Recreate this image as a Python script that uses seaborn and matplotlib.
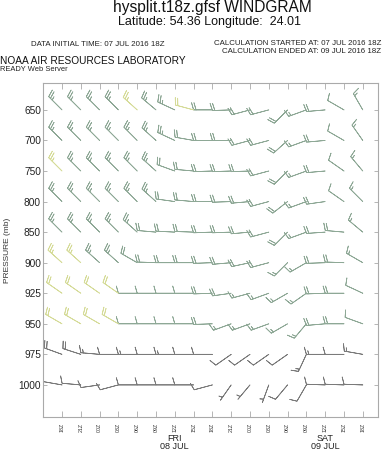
import matplotlib
matplotlib.use("Agg")
import matplotlib.pyplot as plt
import matplotlib.transforms as mtransforms
import numpy as np
import pandas as pd
import seaborn as sns

# pressure levels (top to bottom) and forecast hours
levels = [650, 700, 750, 800, 850, 900, 925, 950, 975, 1000]
hours = ["18Z", "21Z", "00Z", "03Z", "06Z", "09Z", "12Z", "15Z", "18Z",
         "21Z", "00Z", "03Z", "06Z", "09Z", "12Z", "15Z", "18Z"]
day_names = ["FRI\n08 JUL", "SAT\n09 JUL"]
day_hour_idx = [6, 14]

# wind direction (deg, from) and speed (kt) per level, one value per hour
dir_650 = [315, 315, 315, 315, 312, 310, 295, 285, 270, 268, 255, 255, 225, 250, 265, 300, 330]
spd_650 = [25, 25, 25, 25, 25, 25, 25, 20, 20, 20, 20, 20, 20, 15, 20, 10, 15]
dir_700 = [315, 315, 315, 315, 315, 312, 295, 280, 270, 270, 255, 255, 228, 250, 265, 300, 325]
spd_700 = [25, 25, 25, 25, 25, 25, 25, 20, 20, 20, 20, 20, 20, 15, 20, 10, 15]
dir_750 = [315, 315, 315, 315, 315, 312, 290, 275, 268, 268, 268, 255, 225, 250, 265, 305, 320]
spd_750 = [25, 25, 25, 25, 25, 25, 20, 20, 20, 20, 20, 20, 20, 15, 20, 10, 15]
dir_800 = [315, 315, 315, 315, 315, 312, 278, 275, 270, 268, 265, 255, 232, 250, 262, 305, 315]
spd_800 = [25, 25, 25, 25, 25, 25, 20, 20, 20, 20, 20, 20, 20, 15, 20, 10, 15]
dir_850 = [315, 315, 315, 315, 312, 275, 273, 272, 268, 268, 265, 255, 225, 250, 266, 275, 310]
spd_850 = [25, 25, 25, 25, 25, 20, 20, 20, 20, 20, 20, 20, 20, 15, 20, 20, 15]
dir_900 = [312, 312, 312, 312, 300, 272, 270, 270, 268, 265, 258, 255, 225, 240, 268, 272, 300]
spd_900 = [25, 25, 25, 25, 20, 20, 20, 20, 20, 20, 20, 20, 15, 15, 20, 20, 15]
dir_925 = [305, 305, 305, 305, 270, 270, 270, 270, 268, 262, 255, 250, 240, 235, 268, 270, 295]
spd_925 = [20, 20, 20, 20, 10, 10, 10, 10, 20, 20, 15, 15, 15, 15, 20, 20, 10]
dir_950 = [300, 300, 300, 300, 270, 270, 270, 270, 268, 250, 250, 250, 240, 220, 265, 270, 290]
spd_950 = [20, 20, 20, 20, 10, 10, 10, 10, 20, 15, 15, 15, 15, 15, 20, 20, 10]
dir_975 = [290, 288, 275, 270, 270, 270, 270, 270, 270, 235, 235, 235, 235, 205, 270, 270, 280]
spd_975 = [20, 20, 15, 10, 15, 10, 15, 10, 10, 10, 10, 10, 10, 15, 15, 10, 15]
dir_1000 = [280, 275, 262, 255, 270, 270, 270, 270, 255, 215, 220, 200, 220, 210, 272, 272, 272]
spd_1000 = [10, 10, 10, 10, 10, 10, 10, 10, 10, 5, 5, 5, 10, 10, 10, 10, 10]

# colour class of each barb (G grey-green, Y yellow-green, D grey)
tone_650 = "GGGGYGGYGGGGGGGGG"
tone_700 = "GGGGGGGGGGGGGGGGG"
tone_750 = "YGGGGGGGGGGGGGGGG"
tone_800 = "GGGGGGGGGGGGGGGGG"
tone_850 = "GGGGGGGGGGGGGGGGG"
tone_900 = "YYGGGGGGGGGGGGGGG"
tone_925 = "YYYYGGGGGGGGGGGGG"
tone_950 = "YYYYGGGGGGGGGGGGG"
tone_975 = "DDDDDDDDDDDDDDDDD"
tone_1000 = "DDDDDDDDDDDDDDDDD"

dirs = [dir_650, dir_700, dir_750, dir_800, dir_850, dir_900, dir_925, dir_950, dir_975, dir_1000]
spds = [spd_650, spd_700, spd_750, spd_800, spd_850, spd_900, spd_925, spd_950, spd_975, spd_1000]
tones = [tone_650, tone_700, tone_750, tone_800, tone_850, tone_900, tone_925, tone_950, tone_975, tone_1000]

rows = []
for li, lev in enumerate(levels):
    for ti in range(len(hours)):
        rows.append({"t": ti, "lev": li, "dir": dirs[li][ti], "spd": spds[li][ti],
                     "tone": tones[li][ti]})
df = pd.DataFrame(rows)
rad = np.deg2rad(df["dir"].to_numpy(dtype=float))
df["u"] = -df["spd"].to_numpy(dtype=float) * np.sin(rad)
df["v"] = -df["spd"].to_numpy(dtype=float) * np.cos(rad)

palette = {"G": "#8ea896", "Y": "#d5db98", "D": "#7a7a7a"}

sns.set_theme(style="white")
plt.rcParams["font.family"] = ["Liberation Sans", "DejaVu Sans"]

fig = plt.figure(figsize=(3.82, 4.5), dpi=100)
ax = fig.add_axes([43 / 382, 33 / 450, 335 / 382, 334 / 450])
ax.set_xlim(-1.01, 16.81)
ax.set_ylim(10.05, -0.88)

for tone, grp in df.groupby("tone"):
    ax.barbs(grp["t"].to_numpy(dtype=float), grp["lev"].to_numpy(dtype=float),
             grp["u"].to_numpy(), grp["v"].to_numpy(),
             barbcolor=palette[tone], flagcolor=palette[tone],
             length=5.2, linewidth=0.55,
             sizes=dict(spacing=0.13, height=0.38, width=0.22))

ax.set_xticks(range(len(hours)))
ax.set_xticklabels(hours, rotation=90, fontsize=3.8, color="#333333")
ax.set_yticks(range(len(levels)))
ax.set_yticklabels([str(p) for p in levels], fontsize=7.3, color="#222222")
ax.tick_params(axis="x", direction="in", length=4.5, width=0.5, color="#999999",
               top=True, bottom=True, pad=4)
ax.tick_params(axis="y", direction="in", length=3, width=0.5, color="#999999",
               left=True, right=True, pad=1.5)
for sp in ax.spines.values():
    sp.set_color("#aaaaaa")
    sp.set_linewidth(0.8)

trans = mtransforms.blended_transform_factory(ax.transData, ax.transAxes)
for name, idx in zip(day_names, day_hour_idx):
    ax.text(idx, -0.05, name, transform=trans, ha="center", va="top",
            fontsize=6.5, color="#222222", linespacing=0.85)

fig.text(7.5 / 382, 1 - 250 / 450, "PRESSURE (mb)", rotation=90, ha="center",
         va="center", fontsize=6, color="#333333")

fig.text(212 / 382, 1 - 12 / 450, "hysplit.t18z.gfsf WINDGRAM", ha="center",
         va="baseline", fontsize=11.2, color="#111111")
fig.text(210 / 382, 1 - 25 / 450, "Latitude: 54.36 Longitude:  24.01", ha="center",
         va="baseline", fontsize=9, color="#111111")
fig.text(98 / 382, 1 - 46 / 450, "DATA INITIAL TIME: 07 JUL 2016 18Z", ha="center",
         va="baseline", fontsize=5.7, color="#222222")
fig.text(381 / 382, 1 - 45 / 450, "CALCULATION STARTED AT: 07 JUL 2016 18Z", ha="right",
         va="baseline", fontsize=5.7, color="#222222")
fig.text(381 / 382, 1 - 53 / 450, "CALCULATION ENDED AT: 09 JUL 2016 18Z", ha="right",
         va="baseline", fontsize=5.7, color="#222222")
fig.text(0, 1 - 64 / 450, "NOAA AIR RESOURCES LABORATORY", ha="left",
         va="baseline", fontsize=7.3, color="#111111")
fig.text(0, 1 - 71 / 450, "READY Web Server", ha="left", va="baseline",
         fontsize=5.4, color="#222222")

fig.savefig("out.png", dpi=100, facecolor="white")
